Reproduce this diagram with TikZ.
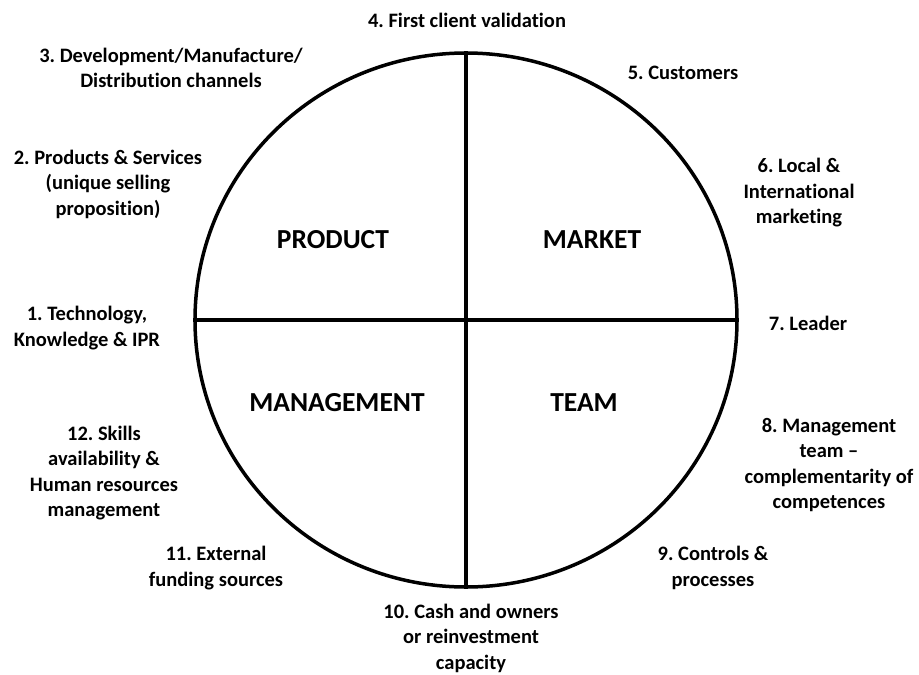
\documentclass[tikz,border=0pt]{standalone}
\usepackage{fontspec}
\setmainfont{Carlito}[Ligatures={TeX,NoCommon}]
\usetikzlibrary{shapes.geometric}

\begin{document}
\frenchspacing
\begin{tikzpicture}[x=1pt,y=-1pt]
						\tikzstyle{item}=[align=center,font=\bfseries\fontsize{20.5}{25.5}\selectfont,inner sep=0pt]
						\tikzstyle{part}=[font=\bfseries\fontsize{27.5}{30}\selectfont,inner sep=0pt]
						\useasboundingbox (0,0) rectangle (919,675);
						\node[ellipse,draw=black,line width=3.5pt,minimum width=542pt,minimum height=534pt,inner sep=0pt](c) at (466,320) {};
						\draw[line width=3.5pt] (c.north) -- (c.south);
						\draw[line width=3.5pt] (c.west) -- (c.east);
						\node[part](p) at (333,240) {PRODUCT};
						\node[part](m) at (592,240) {MARKET};
						\node[part](g) at (337,403) {MANAGEMENT};
						\node[part](t) at (584,403) {TEAM};
						\node[item](i1) at (87,328) {1. Technology,\\Knowledge \& IPR};
						\node[item](i2) at (108,184) {2. Products \& Services\\(unique selling\\proposition)};
						\node[item](i3) at (171,68) {3. Development/Manufacture/\\Distribution channels};
						\node[item](i4) at (467,20) {4. First client validation};
						\node[item](i5) at (683,73) {5. Customers};
						\node[item](i6) at (799,193) {6. Local \&\\International\\marketing};
						\node[item](i7) at (808,323) {7. Leader};
						\node[item](i8) at (829,465) {8. Management\\team --\\complementarity of\\competences};
						\node[item](i9) at (713,568) {9. Controls \&\\processes};
						\node[item](i10) at (471,638) {10. Cash and owners\\or reinvestment\\capacity};
						\node[item](i11) at (216,568) {11. External\\funding sources};
						\node[item](i12) at (104,473) {12. Skills\\availability \&\\Human resources\\management};
					\end{tikzpicture}
\end{document}
